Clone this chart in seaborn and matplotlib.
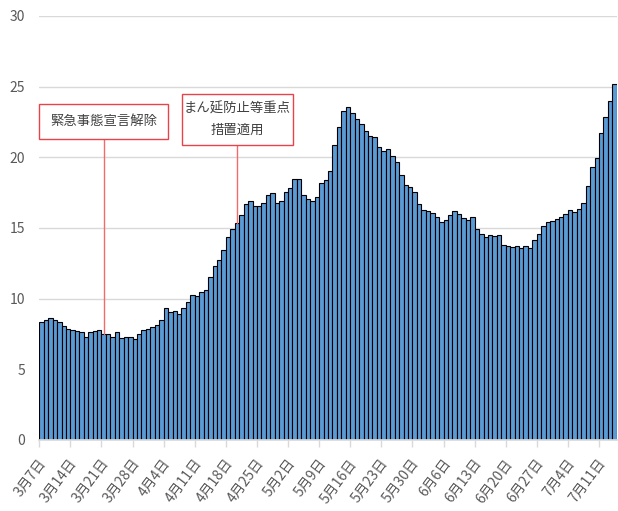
import numpy as np
import pandas as pd
import matplotlib
matplotlib.use('Agg')
import matplotlib.pyplot as plt
import matplotlib.transforms as mtransforms
import seaborn as sns
from matplotlib.patches import Rectangle

# 日別の値（3月7日〜7月14日）
values = [
    8.37, 8.49, 8.63, 8.47, 8.33, 8.04, 7.85, 7.78, 7.71, 7.62,
    7.26, 7.67, 7.71, 7.81, 7.48, 7.48, 7.26, 7.67, 7.24, 7.31,
    7.29, 7.12, 7.52, 7.78, 7.85, 7.97, 8.16, 8.47, 9.32, 9.06,
    9.10, 8.89, 9.36, 9.74, 10.28, 10.17, 10.45, 10.59, 11.56, 12.29,
    12.71, 13.42, 14.39, 14.93, 15.38, 15.90, 16.70, 16.89, 16.56, 16.56,
    16.77, 17.36, 17.45, 16.77, 16.91, 17.52, 17.81, 18.47, 18.47, 17.36,
    17.03, 16.89, 17.22, 18.21, 18.37, 19.06, 20.87, 22.12, 23.30, 23.58,
    23.11, 22.71, 22.38, 21.84, 21.53, 21.42, 20.75, 20.45, 20.61, 20.12,
    19.65, 18.75, 18.02, 17.90, 17.52, 16.67, 16.25, 16.18, 16.04, 15.75,
    15.42, 15.57, 15.92, 16.18, 15.97, 15.68, 15.54, 15.80, 14.93, 14.58,
    14.36, 14.48, 14.43, 14.53, 13.80, 13.75, 13.66, 13.70, 13.61, 13.70,
    13.56, 14.15, 14.55, 15.17, 15.40, 15.50, 15.66, 15.78, 16.01, 16.27,
    16.13, 16.32, 16.79, 17.95, 19.34, 19.91, 21.72, 22.83, 24.01, 25.17,
]
dates = pd.date_range('2021-03-07', periods=len(values))

tick_labels = ['3月7日', '3月14日', '3月21日', '3月28日', '4月4日', '4月11日',
               '4月18日', '4月25日', '5月2日', '5月9日', '5月16日', '5月23日',
               '5月30日', '6月6日', '6月13日', '6月20日', '6月27日', '7月4日',
               '7月11日']

# 注記（テキスト、対象の日付）
note_texts = ['緊急事態宣言解除', 'まん延防止等重点\n措置適用']
note_dates = ['2021-03-21', '2021-04-20']

sns.set_theme(style='white')
plt.rcParams['font.family'] = ['Noto Sans CJK JP', 'DejaVu Sans']

df = pd.DataFrame({'date': dates.strftime('%Y-%m-%d'), 'value': values})

fig = plt.figure(figsize=(6.18, 5.11), dpi=100)
ax = fig.add_axes([0.0636, 0.139, 0.9344, 0.830])
sns.barplot(data=df, x='date', y='value', color='#5b9bd5', saturation=1,
            width=1, edgecolor='black', linewidth=0.8, ax=ax)

ax.set_xlim(-0.5, len(values) - 0.5)
ax.set_ylim(0, 30)
ax.set_yticks(range(0, 31, 5))
ax.yaxis.grid(True, color='#d9d9d9', linewidth=1)
ax.set_axisbelow(True)
ax.set_xlabel('')
ax.set_ylabel('')
for s in ['top', 'right', 'left']:
    ax.spines[s].set_visible(False)
ax.spines['bottom'].set_color('#d9d9d9')

ax.set_xticks(range(0, len(values), 7))
ax.set_xticklabels(tick_labels, rotation=53, ha='right', va='center',
                   rotation_mode='anchor')
ax.set_xticks(np.arange(-0.5, len(values), 7), minor=True)
ax.tick_params(axis='x', which='major', length=0, pad=15, labelsize=10,
               labelcolor='#595959')
ax.tick_params(axis='x', which='minor', length=5, color='#d9d9d9', width=1,
               bottom=True)
ax.tick_params(axis='y', length=0, pad=10, labelsize=10, labelcolor='#595959')
shift = mtransforms.ScaledTranslation(2 / 100, 0, fig.dpi_scale_trans)
for lbl in ax.get_xticklabels():
    lbl.set_transform(lbl.get_transform() + shift)

# 注記ボックスと引き出し線
boxes = [(-0.57, 21.30, 29.1, 2.48), (31.71, 20.88, 24.83, 3.61)]
red = '#e8434a'
for text, d, (bx, by, bw, bh) in zip(note_texts, note_dates, boxes):
    i = df.index[df['date'] == d][0]
    ax.plot([i, i], [values[i], by], color='#f26b6b', linewidth=1, zorder=4)
    ax.add_patch(Rectangle((bx, by), bw, bh, facecolor='white', edgecolor=red,
                           linewidth=1, zorder=5, clip_on=False))
    ax.text(bx + bw / 2, by + bh / 2, text, ha='center', va='center',
            fontsize=9.6, color='#404040', linespacing=1.6, zorder=6)

fig.savefig('out.png', dpi=100)
